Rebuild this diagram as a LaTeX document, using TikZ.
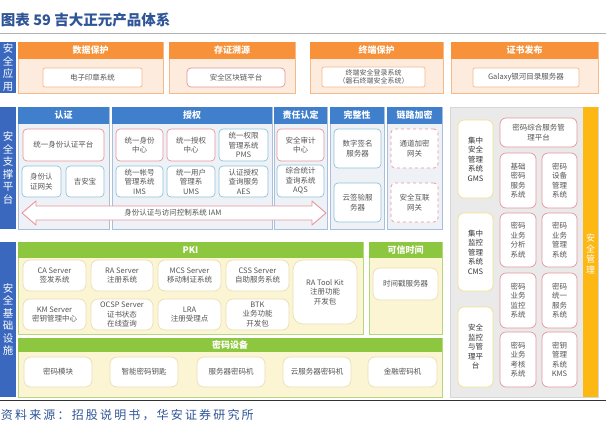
\documentclass[tikz,border=0pt]{standalone}
\usepackage{fontspec}
\setmainfont{Noto Sans CJK SC}
\definecolor{ttl}{HTML}{2F5597}
\definecolor{lblue}{HTML}{3A68BE}
\definecolor{ohead}{HTML}{F7923A}
\definecolor{obg}{HTML}{FDEBDD}
\definecolor{obd}{HTML}{F5B98A}
\definecolor{bhead}{HTML}{3F7FCB}
\definecolor{bbg}{HTML}{EEF2F7}
\definecolor{bbd}{HTML}{A9BFDB}
\definecolor{ghead}{HTML}{8DC63F}
\definecolor{gbg}{HTML}{FCF5D3}
\definecolor{gbd}{HTML}{B5D77F}
\definecolor{graybg}{HTML}{EAEAEA}
\definecolor{graybd}{HTML}{D6D6D6}
\definecolor{bar}{HTML}{FDB813}
\definecolor{redbd}{HTML}{E6959C}
\definecolor{tealbd}{HTML}{8CC3D8}
\definecolor{yelbd}{HTML}{F5DF8C}
\definecolor{crbd}{HTML}{EADFB4}
\definecolor{txt}{HTML}{555555}
\newcommand\mkbox[7]{\node[#1, minimum width={#5-#3}, minimum height={#6-#4}] (#2) at ({(#3+#5)/2},{(#4+#6)/2}) {#7};}
\tikzset{
  lcol/.style={fill=lblue, text=white, align=center, font=\fontsize{10.5}{12.5}\selectfont},
  hdr/.style={text=white, font=\bfseries\fontsize{9}{10}\selectfont},
  ohdr/.style={hdr, fill=ohead},
  bhdr/.style={hdr, fill=bhead},
  ghdr/.style={hdr, fill=ghead},
  obody/.style={fill=obg, draw=obd, line width=0.6},
  bbody/.style={fill=bbg, draw=bbd, line width=0.6},
  gbody/.style={fill=gbg, draw=gbd, line width=0.6},
  ibox/.style={fill=white, rounded corners=4, line width=0.7, text=txt, align=center, font=\fontsize{7.5}{9.5}\selectfont},
  obox/.style={ibox, draw=obd, rounded corners=2},
  redb/.style={ibox, draw=redbd},
  redd/.style={ibox, draw=redbd, dashed},
  tealb/.style={ibox, draw=tealbd},
  yelb/.style={ibox, draw=yelbd, rounded corners=6, text=black!80},
  rb/.style={ibox, draw=redbd, rounded corners=6},
  crb/.style={ibox, draw=crbd, rounded corners=7},
}
\begin{document}
\begin{tikzpicture}[x=1pt,y=-1pt, every node/.style={inner sep=0pt, outer sep=0pt}]
\useasboundingbox[fill=white] (0,0) rectangle (606,429);
% title
\node[anchor=west, font=\bfseries\fontsize{14.5}{15}\selectfont, text=ttl] (title) at (1,20) {图表 59 吉大正元产品体系};
\draw[gray!60, line width=0.8] (0,33) -- (606,33);
\draw[black!80, line width=1] (0,400) -- (606,400);
\node[anchor=west, text=ttl, font=\fontsize{12}{13}\selectfont\addfontfeature{LetterSpace=18}] (src) at (1,415) {资料来源：招股说明书，华安证券研究所};
% left column
\mkbox{lcol}{l1}{0}{42}{16}{93}{安\\全\\应\\用}
\mkbox{lcol}{l2}{0}{107}{16}{229}{安\\全\\支\\撑\\平\\台}
\mkbox{lcol}{l3}{0}{242}{16}{397}{安\\全\\基\\础\\设\\施}
% top orange row
\mkbox{obody}{p1}{18}{42}{163}{93}{}
\mkbox{ohdr}{p1h}{18}{42}{163}{59}{数据保护}
\mkbox{obody}{p2}{169}{42}{295}{93}{}
\mkbox{ohdr}{p2h}{169}{42}{295}{59}{存证溯源}
\mkbox{obody}{p3}{310}{42}{443}{93}{}
\mkbox{ohdr}{p3h}{310}{42}{443}{59}{终端保护}
\mkbox{obody}{p4}{451}{42}{598}{93}{}
\mkbox{ohdr}{p4h}{451}{42}{598}{59}{证书发布}
\mkbox{obox}{a1}{43}{68}{142}{87}{电子印章系统}
\mkbox{redb}{a2}{187}{68}{285}{87}{安全区块链平台}
\mkbox{obox, font=\fontsize{7}{8.5}\selectfont}{a3}{322}{67}{425}{87}{终端安全登录系统\\（磐石终端安全系统）}
\mkbox{obox}{a4}{473}{68}{579}{87}{Galaxy银河目录服务器}
% middle blue row
\mkbox{bbody}{q1}{18}{107}{109}{229}{}
\mkbox{bhdr}{q1h}{18}{107}{109}{124}{认证}
\mkbox{bbody}{q2}{112}{107}{272}{229}{}
\mkbox{bhdr}{q2h}{112}{107}{272}{124}{授权}
\mkbox{bbody}{q3}{274}{107}{327}{229}{}
\mkbox{bhdr}{q3h}{274}{107}{327}{124}{责任认定}
\mkbox{bbody}{q4}{330}{107}{384}{229}{}
\mkbox{bhdr}{q4h}{330}{107}{384}{124}{完整性}
\mkbox{bbody}{q5}{387}{107}{442}{229}{}
\mkbox{bhdr}{q5h}{387}{107}{442}{124}{链路加密}
\mkbox{redb}{c1}{23}{129}{104}{161}{统一身份认证平台}
\mkbox{tealb}{c2}{22}{166}{61}{197}{身份认\\证网关}
\mkbox{tealb}{c3}{66}{166}{104}{197}{吉安宝}
\mkbox{redb}{d1}{116}{129}{163}{161}{统一身份\\中心}
\mkbox{redb}{d2}{167}{129}{215}{161}{统一授权\\中心}
\mkbox{tealb}{d3}{219}{129}{268}{161}{统一权限\\管理系统\\PMS}
\mkbox{tealb}{d4}{116}{166}{163}{197}{统一帐号\\管理系统\\IMS}
\mkbox{tealb}{d5}{167}{166}{215}{197}{统一用户\\管理系\\UMS}
\mkbox{tealb}{d6}{219}{166}{268}{197}{认证授权\\查询服务\\AES}
\mkbox{redb}{e1}{277}{129}{324}{161}{安全审计\\中心}
\mkbox{tealb}{e2}{277}{165}{324}{197}{综合统计\\查询系统\\AQS}
\mkbox{tealb}{f1}{334}{129}{381}{168}{数字签名\\服务器}
\mkbox{tealb}{f2}{334}{183}{381}{222}{云签验服\\务器}
\mkbox{redd}{h1}{391}{129}{438}{168}{通道加密\\网关}
\mkbox{redd}{h2}{391}{183}{438}{222}{安全互联\\网关}
% IAM double arrow
\draw[redbd, fill=white, line width=0.9, line join=round]
  (22,213) -- (36,201) -- (36,206) -- (312,206) -- (312,201) -- (326,213)
  -- (312,225) -- (312,220) -- (36,220) -- (36,225) -- cycle;
\node[text=txt, font=\fontsize{7.5}{9}\selectfont] (iam) at (173,213) {身份认证与访问控制系统 IAM};
% bottom green row
\mkbox{gbody}{g1}{18}{242}{363}{334}{}
\mkbox{ghdr}{g1h}{18}{242}{363}{258}{PKI}
\mkbox{gbody}{g2}{369}{242}{442}{334}{}
\mkbox{ghdr}{g2h}{369}{242}{442}{258}{可信时间}
\mkbox{gbody}{g3}{18}{338}{442}{397}{}
\mkbox{ghdr}{g3h}{18}{338}{442}{352}{密码设备}
\mkbox{crb}{k1}{23}{260}{86}{291}{CA Server\\签发系统}
\mkbox{crb}{k2}{91}{260}{153}{291}{RA Server\\注册系统}
\mkbox{crb}{k3}{158}{260}{221}{291}{MCS Server\\移动制证系统}
\mkbox{crb}{k4}{226}{260}{289}{291}{CSS Server\\自助服务系统}
\mkbox{crb, rounded corners=10}{k5}{293}{260}{357}{324}{RA Tool Kit\\注册功能\\开发包}
\mkbox{crb}{k6}{23}{299}{86}{330}{KM Server\\密钥管理中心}
\mkbox{crb}{k7}{91}{299}{153}{330}{OCSP Server\\证书状态\\在线查询}
\mkbox{crb}{k8}{158}{299}{221}{330}{LRA\\注册受理点}
\mkbox{crb}{k9}{226}{299}{289}{330}{BTK\\业务功能\\开发包}
\mkbox{crb}{t1}{373}{268}{438}{300}{时间戳服务器}
\mkbox{crb}{m1}{24}{357}{92}{387}{密码模块}
\mkbox{crb}{m2}{110}{357}{178}{387}{智能密码钥匙}
\mkbox{crb}{m3}{197}{357}{265}{387}{服务器密码机}
\mkbox{crb}{m4}{283}{357}{351}{387}{云服务器密码机}
\mkbox{crb}{m5}{368}{357}{437}{387}{金融密码机}
% right management panel
\mkbox{fill=graybg, draw=graybd, line width=0.6}{r0}{450}{107}{598}{397}{}
\mkbox{fill=bar}{rbar}{583}{107}{598}{397}{}
\node[text=white, align=center, font=\fontsize{9}{10.5}\selectfont] (rbt) at (590.5,254) {安\\全\\管\\理};
\mkbox{yelb}{y1}{458}{120}{493}{198}{集中\\安全\\管理\\系统\\GMS}
\mkbox{yelb}{y2}{458}{213}{493}{291}{集中\\监控\\管理\\系统\\CMS}
\mkbox{yelb}{y3}{458}{307}{493}{387}{安全\\监控\\与管\\理平\\台}
\mkbox{rb}{s0}{500}{118}{577}{147}{密码综合服务管\\理平台}
\mkbox{rb}{s1}{500}{153}{536}{208}{基础\\密码\\服务\\系统}
\mkbox{rb}{s2}{542}{153}{577}{208}{密码\\设备\\管理\\系统}
\mkbox{rb}{s3}{500}{213}{536}{267}{密码\\业务\\分析\\系统}
\mkbox{rb}{s4}{542}{213}{577}{267}{密码\\业务\\管理\\系统}
\mkbox{rb}{s5}{500}{273}{536}{328}{密码\\业务\\监控\\系统}
\mkbox{rb}{s6}{542}{273}{577}{328}{密码\\统一\\服务\\系统}
\mkbox{rb}{s7}{500}{332}{536}{387}{密码\\业务\\考核\\系统}
\mkbox{rb}{s8}{542}{332}{577}{387}{密钥\\管理\\系统\\KMS}
\end{tikzpicture}
\end{document}
